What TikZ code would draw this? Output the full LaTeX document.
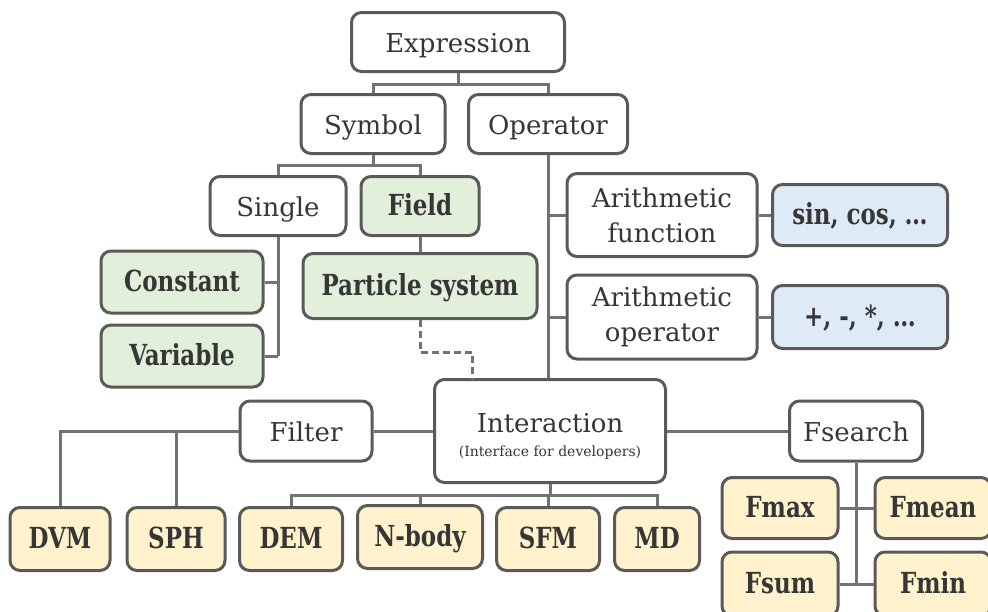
\documentclass[tikz,border=0pt]{standalone}
\usepackage{fontspec}
\setmainfont{DejaVu Serif}
\newfontfamily\condf{DejaVu Serif Condensed}[FakeStretch=0.88]
\definecolor{boxc}{HTML}{5A5A5A}
\definecolor{linec}{HTML}{727272}
\definecolor{txt}{HTML}{363636}
\definecolor{gfill}{HTML}{E2EFDA}
\definecolor{yfill}{HTML}{FFF2CC}
\definecolor{bfill}{HTML}{DEEBF7}
\tikzset{
  box/.style={draw=boxc, line width=3pt, rounded corners=10pt, fill=white,
    align=center, inner sep=0pt, text=txt, font=\fontsize{26}{35}\selectfont},
  one/.style={text height=22pt, text depth=2pt},
  hbox/.style={box, font=\condf\bfseries\fontsize{29}{34}\selectfont, text height=23pt, text depth=4pt},
  gbox/.style={hbox, fill=gfill},
  ybox/.style={hbox, fill=yfill},
  bbox/.style={hbox, fill=bfill},
  sz/.style 2 args={minimum width=#1pt, minimum height=#2pt},
  conn/.style={draw=linec, line width=3pt},
  dconn/.style={conn, dash pattern=on 7pt off 4pt},
}
\begin{document}
\begin{tikzpicture}[x=1pt,y=-1pt]
\useasboundingbox (0,0) rectangle (988,611);
\coordinate (dend) at (472,380);
% nodes
\node[box, one, sz={213}{59}] (expr) at (458,42) {Expression};
\node[box, one, sz={144}{59}] (sym) at (373,124) {Symbol};
\node[box, one, sz={159}{59}] (op) at (548,124) {Operator};
\node[box, one, sz={136}{59}] (single) at (278,206) {Single};
\node[gbox, sz={118}{59}] (field) at (420,206) {Field};
\node[gbox, sz={162}{62}] (const) at (182,282) {Constant};
\node[gbox, sz={162}{62}] (var) at (182,356) {Variable};
\node[gbox, sz={234}{65}] (ps) at (420,286) {Particle system};
\node[box, sz={190}{83}] (af) at (662,215) {Arithmetic\\function};
\node[box, sz={190}{84}] (ao) at (662,317) {Arithmetic\\operator};
\node[bbox, sz={175}{61}] (sin) at (860,215) {sin, cos, …};
\node[bbox, sz={175}{63}] (plus) at (860,317) {+, -, *, …};
\node[box, sz={231}{103}] (inter) at (550,431) {};
\node[align=center, inner sep=0pt, text=txt, font=\fontsize{26}{30}\selectfont] (intertxt) at (550,436) {Interaction\\[-6pt]{\fontsize{14}{16}\selectfont (Interface for developers)}};
\node[box, one, sz={132}{60}] (filter) at (306,431) {Filter};
\node[box, one, sz={133}{60}] (fs) at (856,431) {Fsearch};
\node[ybox, sz={100}{63}] (dvm) at (60,539) {DVM};
\node[ybox, sz={98}{63}] (sph) at (176,539) {SPH};
\node[ybox, sz={103}{63}] (dem) at (291,539) {DEM};
\node[ybox, sz={125}{63}] (nbody) at (420,537) {N-body};
\node[ybox, sz={103}{63}] (sfm) at (548,539) {SFM};
\node[ybox, sz={85}{63}] (md) at (657,539) {MD};
\node[ybox, sz={116}{61}] (fmax) at (780,508) {Fmax};
\node[ybox, sz={116}{61}] (fmean) at (933,508) {Fmean};
\node[ybox, sz={116}{64}] (fsum) at (780,584) {Fsum};
\node[ybox, sz={116}{64}] (fmin) at (933,584) {Fmin};
% connectors
\draw[conn] (expr.south) -- ++(0,11) -| (sym.north);
\draw[conn] (expr.south) -- ++(0,11) -| (op.north);
\draw[conn] (sym.south) -- ++(0,10) -| (single.north);
\draw[conn] (sym.south) -- ++(0,10) -| (field.north);
\draw[conn] (op.south) -- (op.south |- inter.north);
\draw[conn] (op.south |- af.west) -- (af.west);
\draw[conn] (op.south |- ao.west) -- (ao.west);
\draw[conn] (af.east) -- (sin.west);
\draw[conn] (ao.east) -- (plus.west);
\draw[conn] (single.south) -- (single.south |- var.east);
\draw[conn] (const.east) -- (const.east -| single.south);
\draw[conn] (var.east) -- (var.east -| single.south);
\draw[conn] (field.south) -- (ps.north);
\draw[dconn] (ps.south) -- ++(0,32) -| (dend);
\draw[conn] (filter.east) -- (inter.west);
\draw[conn] (inter.east) -- (fs.west);
\draw[conn] (filter.west) -| (dvm.north);
\draw[conn] (filter.west -| sph.north) -- (sph.north);
\draw[conn] (inter.south) -- ++(0,11) -| (dem.north);
\draw[conn] (inter.south) -- ++(0,11) -| (nbody.north);
\draw[conn] (inter.south) -- ++(0,11) -| (sfm.north);
\draw[conn] (inter.south) -- ++(0,11) -| (md.north);
\draw[conn] (fs.south) -- (fs.south |- fsum.east);
\draw[conn] (fmax.east) -- (fmean.west);
\draw[conn] (fsum.east) -- (fmin.west);
\end{tikzpicture}
\end{document}
